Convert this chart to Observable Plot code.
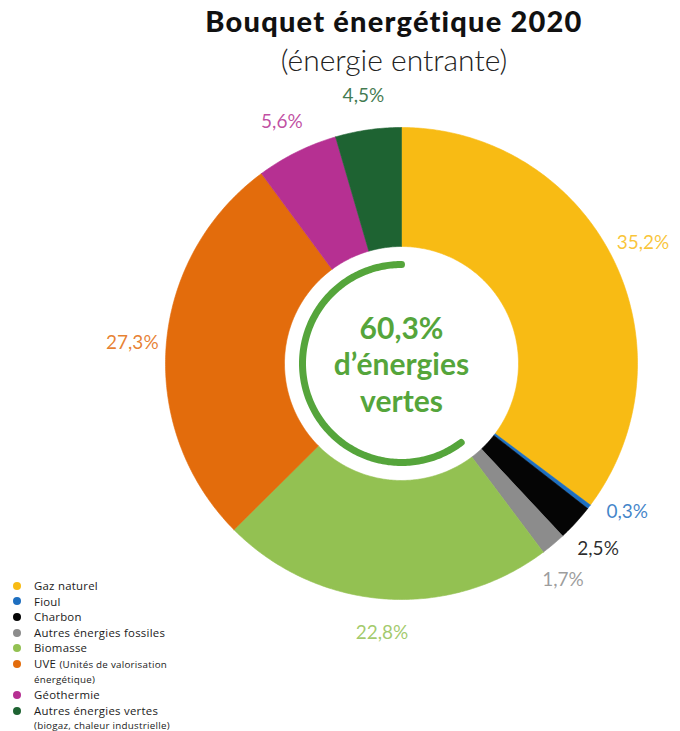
<!DOCTYPE html>
<html><head><meta charset="utf-8">
<script src="https://cdn.jsdelivr.net/npm/d3@7"></script>
<script src="https://cdn.jsdelivr.net/npm/@observablehq/plot@0.6"></script>
<style>
body{margin:0;background:#fff;font-family:Lato,sans-serif;}
#wrap{position:relative;width:680px;height:731px;overflow:hidden;background:#fff}
#title{position:absolute;top:3px;left:108px;right:0;text-align:center;font-weight:900;font-size:29px;line-height:36px;color:#111;letter-spacing:1.2px;font-family:Lato,sans-serif}
#subtitle{position:absolute;top:41px;left:108px;right:0;text-align:center;font-weight:300;font-size:30px;line-height:36px;color:#222;font-family:Lato,sans-serif}
#chart{position:absolute;top:80px;left:0}
#legend{position:absolute;left:11px;top:578px;font-family:"Open Sans",sans-serif;font-weight:500;font-size:11.4px;letter-spacing:0.25px;color:#1a1a1a;line-height:15.6px}
.item{display:flex;align-items:flex-start}
.dot{width:8px;height:8px;border-radius:50%;margin:3.8px 13px 0 2px;flex:none}
.sub{font-size:9.8px;display:block;line-height:14.8px}
.subi{font-size:9.8px}
</style></head>
<body>
<div id="wrap">
  <div id="title">Bouquet énergétique 2020</div>
  <div id="subtitle">(énergie entrante)</div>
  <div id="chart"></div>
  <div id="legend"></div>
</div>
<script>
const categories = ["Gaz naturel","Fioul","Charbon","Autres énergies fossiles","Biomasse","UVE","Géothermie","Autres énergies vertes"];
const shares = [35.2, 0.3, 2.5, 1.7, 22.8, 27.3, 5.6, 4.5];
const shareLabels = ["35,2%","0,3%","2,5%","1,7%","22,8%","27,3%","5,6%","4,5%"];
const colors = ["#F8BB14","#1E6FC0","#050505","#8C8C8C","#93C152","#E36C0C","#B63092","#1E6332"];
const legendMain = ["Gaz naturel","Fioul","Charbon","Autres énergies fossiles","Biomasse","UVE","Géothermie","Autres énergies vertes"];
const legendInline = ["","","","","","(Unités de valorisation","",""];
const legendSub = ["","","","","","énergétique)","","(biogaz, chaleur industrielle)"];
const greenShare = 60.3;
const centerText = "60,3%\nd’énergies\nvertes";

// geometry (chart units = pixels)
const R_OUT = 236, R_IN = 117, R_ARC = 99, R_LABEL = 270;

const pie = d3.pie().sort(null).value(d => d)(shares);
const slicePts = [];
pie.forEach((p, i) => {
  const a0 = p.startAngle, a1 = p.endAngle;
  const n = Math.max(2, Math.ceil((a1 - a0) / 0.01));
  const pts = [];
  for (let k = 0; k <= n; k++) { const a = a0 + (a1 - a0) * k / n; pts.push([a, R_OUT]); }
  for (let k = n; k >= 0; k--) { const a = a0 + (a1 - a0) * k / n; pts.push([a, R_IN]); }
  pts.push([a0, R_OUT]);
  pts.forEach(([a, r]) => slicePts.push({cat: categories[i], x: r * Math.sin(a), y: r * Math.cos(a)}));
});

// labels with simple angular dodge
const lab = pie.map((p, i) => ({cat: categories[i], text: shareLabels[i], a: (p.startAngle + p.endAngle) / 2}));
const minSep = 10 * Math.PI / 180;
for (let it = 0; it < 200; it++) {
  for (let i = 0; i < lab.length - 1; i++) {
    const d = lab[i + 1].a - lab[i].a;
    if (d < minSep) { const s = (minSep - d) / 2; lab[i].a -= s; lab[i + 1].a += s; }
  }
}
lab.forEach(l => { l.x = R_LABEL * Math.sin(l.a); l.y = R_LABEL * Math.cos(l.a); });

// green arc (share of green energies), counterclockwise from top
const arcPts = [];
const span = greenShare / 100 * 2 * Math.PI;
for (let k = 0; k <= 200; k++) { const a = -span * k / 200; arcPts.push({x: R_ARC * Math.sin(a), y: R_ARC * Math.cos(a)}); }

const chart = Plot.plot({
  width: 680, height: 651, margin: 0,
  x: {domain: [-401, 279], axis: null},
  y: {domain: [-368, 283], axis: null},
  color: {domain: categories, range: colors},
  marks: [
    Plot.line(slicePts, {x: "x", y: "y", z: "cat", fill: "cat", stroke: "cat", strokeWidth: 0.6, curve: "linear"}),
    Plot.line(arcPts, {x: "x", y: "y", stroke: "#55A53B", strokeWidth: 7, strokeLinecap: "round"}),
    Plot.text([centerText], {x: () => 0, y: () => 0, text: d => d, fill: "#55A53B", fontSize: 30, fontWeight: "bold", fontFamily: "Lato, sans-serif", lineHeight: 1.22}),
    Plot.text(lab, {x: "x", y: "y", text: "text", fill: "cat", fontSize: 19, fontFamily: "Lato, sans-serif", fillOpacity: 0.85, ariaLabel: "share-labels"})
  ]
});
d3.select(chart).selectAll('g[aria-label="share-labels"]').style("letter-spacing", "1px");
document.getElementById("chart").appendChild(chart);

const leg = document.getElementById("legend");
categories.forEach((c, i) => {
  const d = document.createElement("div");
  d.className = "item";
  const inline = legendInline[i] ? ` <span class="subi">${legendInline[i]}</span>` : "";
  const sub = legendSub[i] ? `<span class="sub">${legendSub[i]}</span>` : "";
  d.innerHTML = `<span class="dot" style="background:${colors[i]}"></span><div><div>${legendMain[i]}${inline}</div>${sub}</div>`;
  leg.appendChild(d);
});
</script>
</body></html>
